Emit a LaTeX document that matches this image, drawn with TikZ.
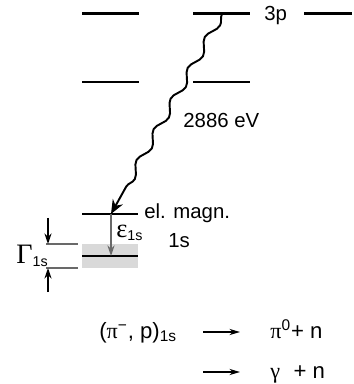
\documentclass[tikz,border=0pt]{standalone}
\usepackage{fontspec}
\setmainfont{Liberation Sans}
\newfontfamily\greek{Liberation Serif}
\usetikzlibrary{arrows.meta, positioning, decorations.pathmorphing}
\definecolor{widthgrey}{RGB}{217,217,217}
\definecolor{markgrey}{RGB}{105,105,105}

\begin{document}
\begin{tikzpicture}[x=0.02cm, y=-0.02cm, font=\fontsize{11.6}{13}\selectfont,
  level/.style={line width=1.7pt},
  edge/.style={markgrey, line width=1pt},
  photon/.style={line width=1.1pt, decorate, decoration={snake, amplitude=2.2pt, segment length=20pt, post length=8pt}},
  lbl/.style={inner sep=0pt, anchor=base west},
  reac/.style={lbl, font=\fontsize{12.6}{14}\selectfont}]
  \useasboundingbox (0,0) rectangle (353,384);
  % 1s width band
  \fill[widthgrey] (82,244) rectangle (138,268);
  % levels
  \draw[level] (82,14) -- (139,14);
  \draw[level] (193,14) -- (250,14);
  \draw[level] (304,14) -- (352,14);
  \draw[level] (82,82) -- (139,82);
  \draw[level] (193,82) -- (250,82);
  \draw[level] (82,214) -- (138,214);
  \draw[level] (82,256) -- (138,256);
  \coordinate (p3) at (222,14);
  \coordinate (em) at (111,214);
  \coordinate (s1) at (111,256);
  % labels
  \node[lbl] (l3p) at (264,21) {3p};
  \node[lbl] (lev) at (183,128) {2886 eV};
  \node[lbl] (lem) at (144,218) {el. magn.};
  \node[lbl] (l1s) at (168,247) {1s};
  \node[lbl] (leps) at (116,237) {{\greek\fontsize{15}{15}\selectfont ε}\textsubscript{1s}};
  \node[lbl] (lgam) at (16,263) {{\greek\fontsize{16}{16}\selectfont Γ}\textsubscript{1s}};
  % transition and shift
  \draw[photon, -{Stealth[length=8pt, width=6.5pt]}] (p3) -- (em);
  \draw[edge, -{Stealth[length=6pt, width=4pt]}] (em) -- (s1);
  % width markers
  \coordinate (g1) at (46,244);
  \coordinate (g2) at (46,268);
  \draw[edge] (g1) -- (78,244);
  \draw[edge] (g2) -- (78,268);
  \draw[line width=0.8pt, -{Stealth[length=6pt, width=4pt]}] (48,218) -- (48,244);
  \draw[line width=0.8pt, -{Stealth[length=6pt, width=4pt]}] (48,292) -- (48,268);
  % reactions
  \node[reac] (r0) at (99,338) {({\greek π}\textsuperscript{−}, p)\textsubscript{1s}};
  \node[reac] (r1) at (270,338) {{\greek π}\textsuperscript{0}+ n};
  \node[reac] (r2) at (270,378) {{\greek γ}\,\, + n};
  \coordinate (a1) at (203,332);
  \coordinate (a2) at (203,372);
  \draw[line width=0.9pt, -{Stealth[length=6pt, width=3.5pt]}] (a1) -- ++(37,0);
  \draw[line width=0.9pt, -{Stealth[length=6pt, width=3.5pt]}] (a2) -- ++(37,0);
\end{tikzpicture}
\end{document}
